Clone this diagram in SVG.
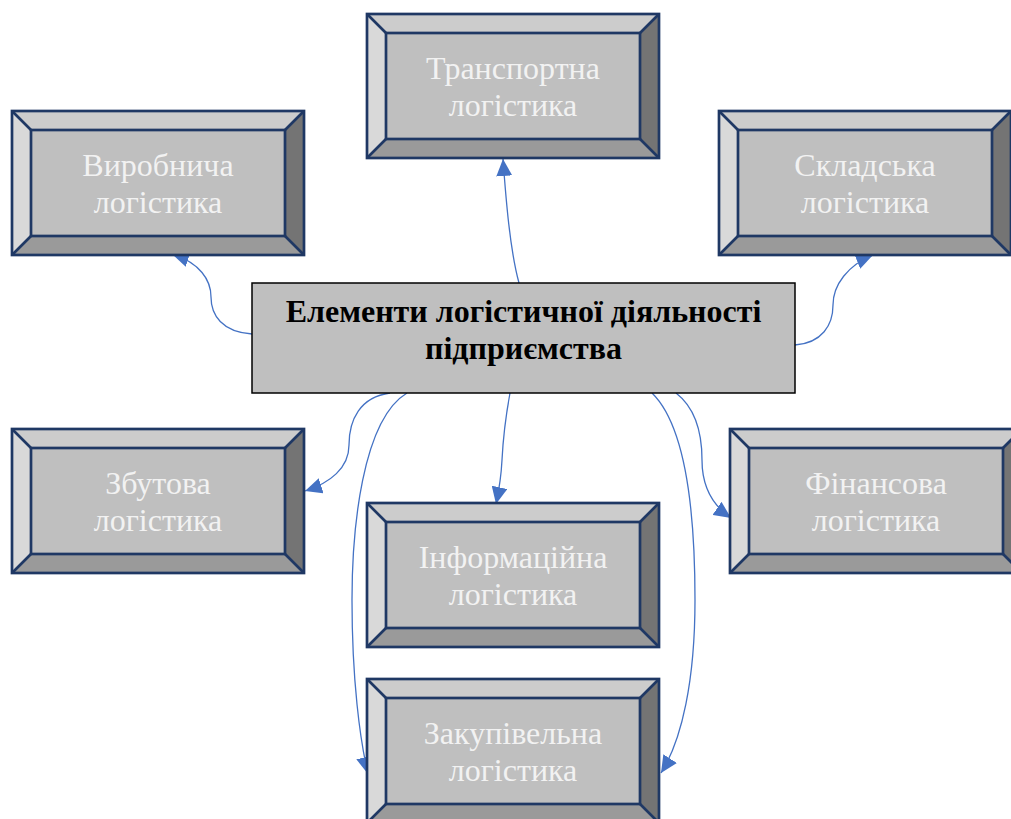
<svg xmlns="http://www.w3.org/2000/svg" xmlns:xlink="http://www.w3.org/1999/xlink" width="1011" height="819" viewBox="0 0 1011 819">
<style>
.lbl{font-family:"Liberation Serif","Times New Roman",serif;font-size:32px;fill:#f2f2f2;text-anchor:middle}
.title{font-family:"Liberation Serif","Times New Roman",serif;font-size:32px;font-weight:bold;fill:#000;text-anchor:middle}
.conn{fill:none;stroke:#4472c4;stroke-width:1.3}
.edge{fill:none;stroke:#1f3864;stroke-width:2.7;stroke-linejoin:miter}
</style>
<defs>
<marker id="arr" markerUnits="userSpaceOnUse" markerWidth="18" markerHeight="16" refX="17" refY="8" orient="auto" viewBox="0 0 18 16">
<path d="M0,0 L17,8 L0,16 Z" fill="#4472c4"/>
</marker>
<g id="bevel">
<polygon points="0,0 292,0 273,19 19,19" fill="#cccccc"/>
<polygon points="0,0 19,19 19,125 0,144" fill="#d9d9d9"/>
<polygon points="292,0 292,144 273,125 273,19" fill="#747474"/>
<polygon points="0,144 19,125 273,125 292,144" fill="#9a9a9a"/>
<rect x="19" y="19" width="254" height="106" fill="#bfbfbf"/>
<rect class="edge" x="0" y="0" width="292" height="144"/>
<rect class="edge" x="19" y="19" width="254" height="106"/>
<path class="edge" d="M0,0 L19,19 M292,0 L273,19 M0,144 L19,125 M292,144 L273,125"/>
</g>
</defs>
<rect width="1011" height="819" fill="#ffffff"/>
<g id="connectors">
<path class="conn" marker-end="url(#arr)" d="M519,283 C 510,250 506,200 503,159"/>
<path class="conn" marker-end="url(#arr)" d="M252,334 C 222,332 211,315 211,297 C 211,280 200,263 172,254"/>
<path class="conn" marker-end="url(#arr)" d="M795,345 C 822,343 833,325 833,305 C 833,285 848,265 873,255"/>
<path class="conn" marker-end="url(#arr)" d="M390,393 C 360,397 349,420 349,445 C 349,468 330,483 305,491"/>
<path class="conn" marker-end="url(#arr)" d="M407,393 C 362,420 352,530 352,600 C 352,680 360,740 368,774"/>
<path class="conn" marker-end="url(#arr)" d="M510,393 C 505,420 503,440 502,460 C 501,480 499,490 496,504"/>
<path class="conn" marker-end="url(#arr)" d="M652,393 C 690,430 695,530 695,600 C 695,680 682,740 661,773"/>
<path class="conn" marker-end="url(#arr)" d="M676,393 C 698,410 702,440 702,460 C 702,485 712,505 731,518"/>
</g>
<g id="center">
<rect x="252" y="283" width="543" height="110" fill="#bfbfbf" stroke="#000" stroke-width="1.5"/>
<text class="title" x="523.5" y="322">Елементи логістичної діяльності</text>
<text class="title" x="523.5" y="359">підприємства</text>
</g>
<g id="transport">
<use xlink:href="#bevel" x="367" y="14"/>
<text class="lbl" x="513" y="79">Транспортна</text>
<text class="lbl" x="513" y="116">логістика</text>
</g>
<g id="vyrobnycha">
<use xlink:href="#bevel" x="12" y="111"/>
<text class="lbl" x="158" y="176">Виробнича</text>
<text class="lbl" x="158" y="213">логістика</text>
</g>
<g id="skladska">
<use xlink:href="#bevel" x="719" y="111"/>
<text class="lbl" x="865" y="176">Складська</text>
<text class="lbl" x="865" y="213">логістика</text>
</g>
<g id="zbutova">
<use xlink:href="#bevel" x="12" y="429"/>
<text class="lbl" x="158" y="494">Збутова</text>
<text class="lbl" x="158" y="531">логістика</text>
</g>
<g id="finansova">
<use xlink:href="#bevel" x="730" y="429"/>
<text class="lbl" x="876" y="494">Фінансова</text>
<text class="lbl" x="876" y="531">логістика</text>
</g>
<g id="informatsiyna">
<use xlink:href="#bevel" x="367" y="503"/>
<text class="lbl" x="513" y="568">Інформаційна</text>
<text class="lbl" x="513" y="605">логістика</text>
</g>
<g id="zakupivelna">
<use xlink:href="#bevel" x="367" y="679"/>
<text class="lbl" x="513" y="744">Закупівельна</text>
<text class="lbl" x="513" y="781">логістика</text>
</g>
</svg>
